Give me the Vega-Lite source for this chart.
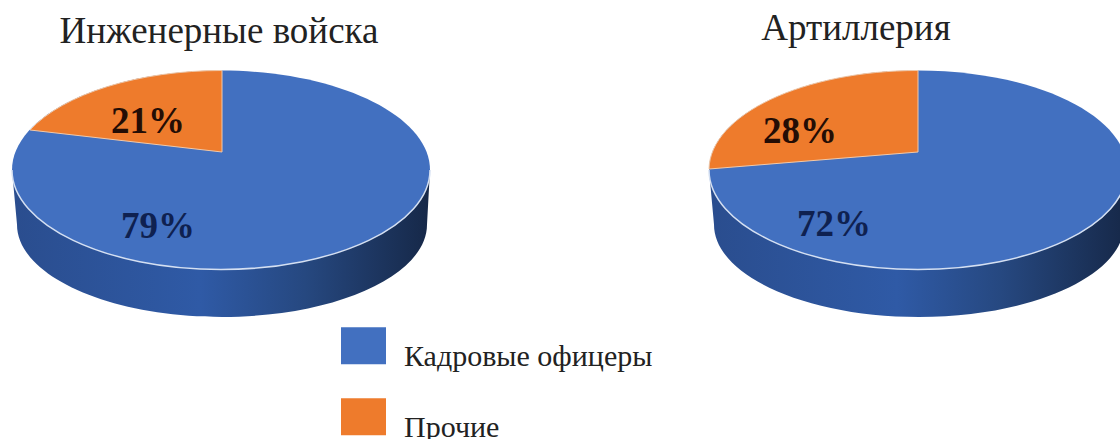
{
"$schema":"https://vega.github.io/schema/vega-lite/v6.json",
"width":1120,"height":439,"padding":0,"autosize":{"type":"none"},
"background":"#ffffff",
"config":{"view":{"stroke":null},"text":{"font":"Liberation Serif"}},
"data":{"values":[
{"branch":"Инженерные войска","category":"Кадровые офицеры","share":0.79},
{"branch":"Инженерные войска","category":"Прочие","share":0.21},
{"branch":"Артиллерия","category":"Кадровые офицеры","share":0.72},
{"branch":"Артиллерия","category":"Прочие","share":0.28}
]},
"encoding":{"x":{"field":"branch","type":"nominal","axis":null,"scale":{"type":"point","padding":0,"domain":["Инженерные войска","Артиллерия"],"range":[221,918]}}},
"layer":[
{"transform":[{"filter":"datum.category==='Кадровые офицеры'"}],
 "mark":{"type":"point","size":4,"filled":true,"opacity":1,"strokeWidth":0,
  "shape":"M-209,-49.5 L-204,5 A204,92 0 0 0 206,5 L209,-49.5 Z",
  "fill":{"gradient":"linear","x1":0,"y1":0,"x2":1,"y2":0,"stops":[{"offset":0,"color":"#2a4d8e"},{"offset":0.45,"color":"#2f5aa6"},{"offset":0.7,"color":"#264880"},{"offset":1,"color":"#162848"}]}}},
{"transform":[{"filter":"datum.category==='Кадровые офицеры'"}],
 "mark":{"type":"point","size":4,"filled":true,"opacity":1,"strokeWidth":0,
  "shape":"M-209,-49.5 A209,99.5 0 1 1 209,-49.5 A209,99.5 0 1 1 -209,-49.5 Z"},
 "encoding":{"color":{"field":"category","type":"nominal","scale":{"domain":["Кадровые офицеры","Прочие"],"range":["#4270c0","#ee7b2c"]},
  "legend":{"orient":"none","legendX":341,"legendY":334,"title":null,"padding":0,"symbolSize":2025,"symbolStrokeWidth":0,"symbolOpacity":1,"symbolType":"M-1,-1.3 H1 V0.34 H-1 Z","rowPadding":26,"labelOffset":18,"labelFont":"Liberation Serif","labelFontSize":30,"labelColor":"#222222","labelLimit":320}}}},
{"transform":[{"filter":"datum.category==='Кадровые офицеры'"}],
 "mark":{"type":"point","size":4,"filled":false,"opacity":1,"strokeWidth":1.5,"stroke":"#d5e0f2",
  "shape":"M-209,-49.5 A209,99.5 0 0 0 209,-49.5"}},
{"transform":[{"filter":"datum.category==='Прочие' && datum.branch==='Инженерные войска'"}],
 "mark":{"type":"point","size":4,"filled":true,"opacity":1,"fill":"#ee7b2c","stroke":"#f2c9a8","strokeWidth":1,
  "shape":"M1,-67.5 L-191,-89.5 A209,99.5 0 0 1 1,-149 Z"}},
{"transform":[{"filter":"datum.category==='Прочие' && datum.branch==='Артиллерия'"}],
 "mark":{"type":"point","size":4,"filled":true,"opacity":1,"fill":"#ee7b2c","stroke":"#f2c9a8","strokeWidth":1,
  "shape":"M0,-67.5 L-209,-50.5 A209,99.5 0 0 1 0,-149 Z"}},
{"transform":[{"filter":"datum.category==='Прочие' && datum.branch==='Инженерные войска'"}],
 "mark":{"type":"text","font":"Liberation Serif","fontWeight":"bold","fontSize":37,"color":"#240d05","dx":-73,"dy":-98},
 "encoding":{"text":{"field":"share","type":"quantitative","format":".0%"}}},
{"transform":[{"filter":"datum.category==='Кадровые офицеры' && datum.branch==='Инженерные войска'"}],
 "mark":{"type":"text","font":"Liberation Serif","fontWeight":"bold","fontSize":37,"color":"#0f2150","dx":-63,"dy":7},
 "encoding":{"text":{"field":"share","type":"quantitative","format":".0%"}}},
{"transform":[{"filter":"datum.category==='Прочие' && datum.branch==='Артиллерия'"}],
 "mark":{"type":"text","font":"Liberation Serif","fontWeight":"bold","fontSize":37,"color":"#240d05","dx":-118,"dy":-88},
 "encoding":{"text":{"field":"share","type":"quantitative","format":".0%"}}},
{"transform":[{"filter":"datum.category==='Кадровые офицеры' && datum.branch==='Артиллерия'"}],
 "mark":{"type":"text","font":"Liberation Serif","fontWeight":"bold","fontSize":37,"color":"#0f2150","dx":-84,"dy":5.5},
 "encoding":{"text":{"field":"share","type":"quantitative","format":".0%"}}},
{"transform":[{"filter":"datum.category==='Прочие' && datum.branch==='Инженерные войска'"}],
 "mark":{"type":"text","font":"Liberation Serif","fontSize":37,"color":"#222222","dx":-2,"dy":-188},
 "encoding":{"text":{"field":"branch"}}},
{"transform":[{"filter":"datum.category==='Прочие' && datum.branch==='Артиллерия'"}],
 "mark":{"type":"text","font":"Liberation Serif","fontSize":37,"color":"#222222","dx":-62,"dy":-191},
 "encoding":{"text":{"field":"branch"}}}
]
}
